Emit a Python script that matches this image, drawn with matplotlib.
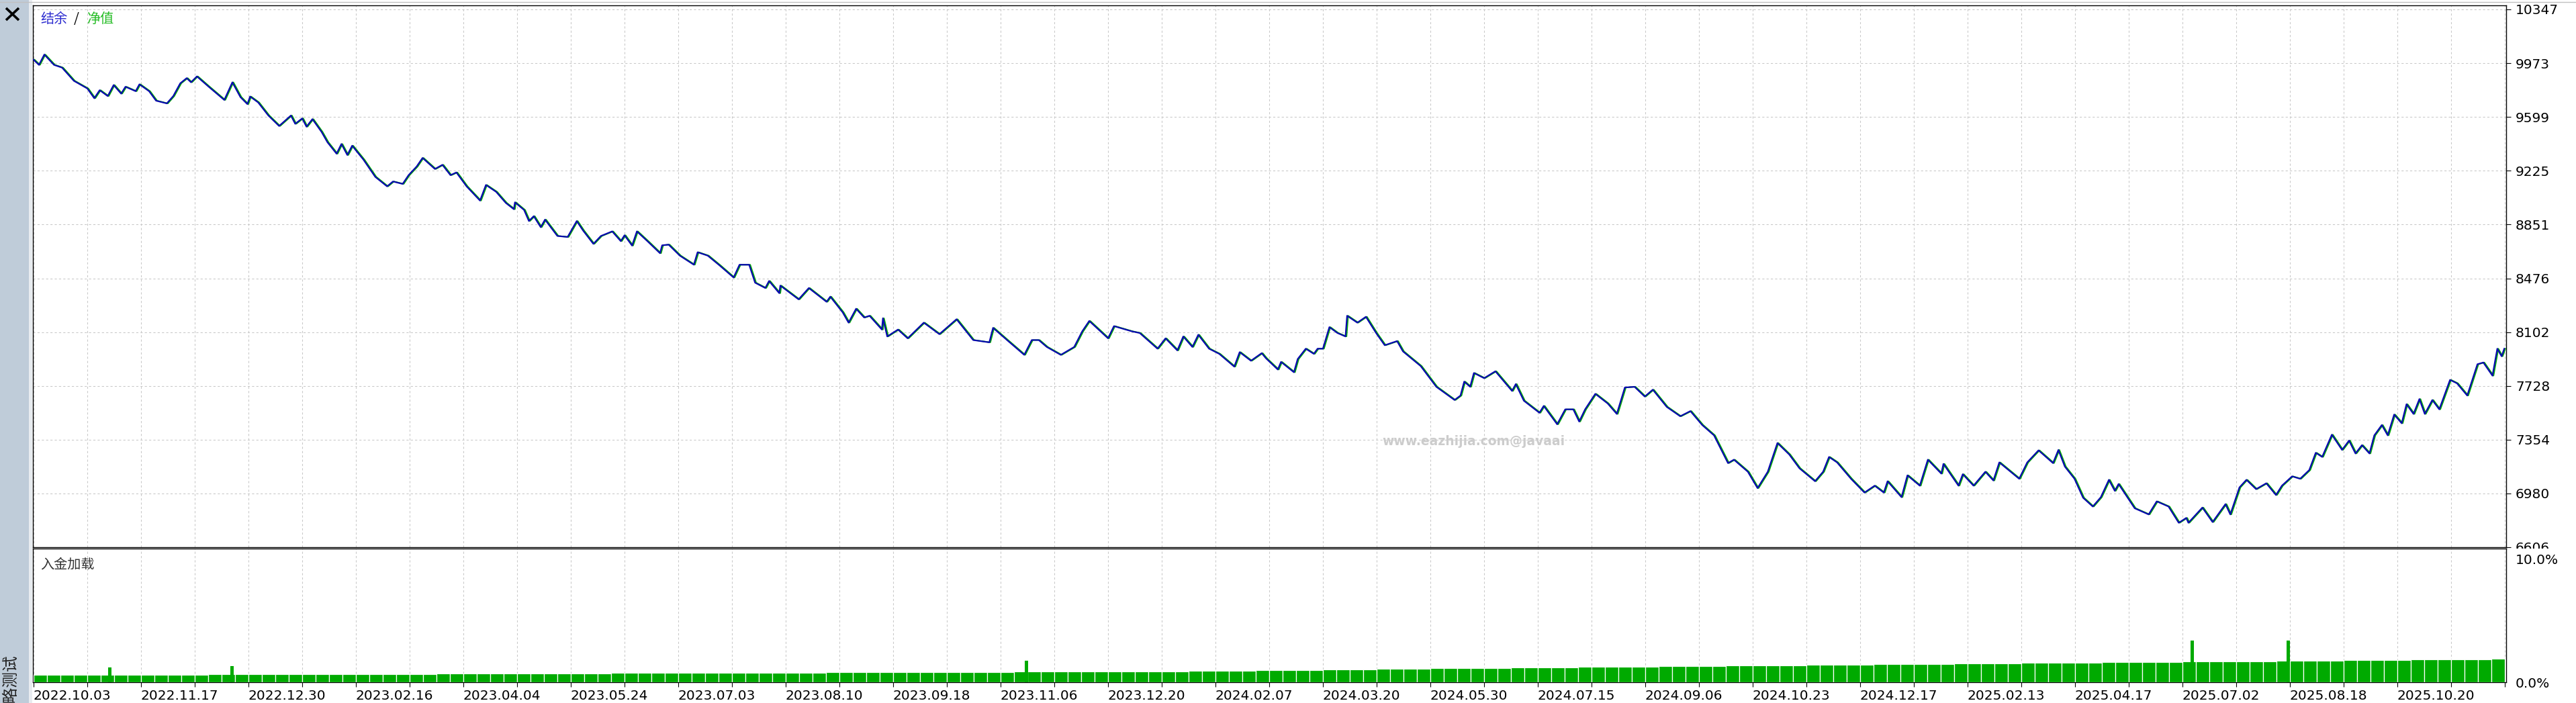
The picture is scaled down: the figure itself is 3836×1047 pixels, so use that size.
import matplotlib
matplotlib.use('Agg')
import matplotlib.pyplot as plt
from matplotlib.patches import Rectangle
from matplotlib.lines import Line2D

plt.rcParams['font.family'] = ['DejaVu Sans']
plt.rcParams['lines.scale_dashes'] = False

W, H, DPI = 3837, 1047, 100

# x axis: one unit per grid column, a date label on every second column
date_labels = ['2022.10.03', '2022.11.17', '2022.12.30', '2023.02.16', '2023.04.04',
               '2023.05.24', '2023.07.03', '2023.08.10', '2023.09.18', '2023.11.06',
               '2023.12.20', '2024.02.07', '2024.03.20', '2024.05.30', '2024.07.15',
               '2024.09.06', '2024.10.23', '2024.12.17', '2025.02.13', '2025.04.17',
               '2025.07.02', '2025.08.18', '2025.10.20']
y_ticks = [6606, 6980, 7354, 7728, 8102, 8476, 8851, 9225, 9599, 9973, 10347]

# balance curve (position in grid columns, value)
bal_x = [0.0, 0.1, 0.2, 0.38, 0.53, 0.75, 1.0, 1.13, 1.23, 1.38, 1.49, 1.63, 1.71, 1.9, 1.97,
         2.15, 2.28, 2.48, 2.6, 2.73, 2.85, 2.93, 3.04, 3.26, 3.55, 3.7, 3.85, 3.98, 4.03, 4.18,
         4.37, 4.57, 4.79, 4.87, 5.0, 5.08, 5.19, 5.36, 5.47, 5.64, 5.73, 5.84, 5.93, 6.14, 6.36,
         6.58, 6.69, 6.87, 6.98, 7.13, 7.24, 7.47, 7.61, 7.76, 7.87, 8.06, 8.31, 8.42, 8.61, 8.79,
         8.94, 8.96, 9.13, 9.22, 9.31, 9.44, 9.52, 9.75, 9.94, 10.11, 10.23, 10.42, 10.56, 10.77,
         10.93, 11.0, 11.14, 11.23,
         11.44, 11.66, 11.7, 11.82, 12.03, 12.29, 12.36, 12.55, 12.77, 13.03, 13.14, 13.32, 13.43,
         13.62, 13.69, 13.88, 13.9, 14.24, 14.43, 14.76, 14.83, 15.06, 15.17, 15.31, 15.46, 15.56,
         15.79, 15.81, 15.89, 16.09, 16.27, 16.57, 16.86, 17.18, 17.49, 17.79, 17.86, 18.12, 18.44,
         18.58, 18.71, 18.86, 19.12, 19.37, 19.52, 19.65, 20.0, 20.11, 20.44, 20.59, 20.92, 21.07,
         21.29, 21.4, 21.57, 21.68, 21.88, 22.07, 22.35, 22.45, 22.66, 22.86,
         22.94, 23.16, 23.22, 23.46, 23.53, 23.68, 23.83, 23.9, 24.0, 24.12, 24.27, 24.42, 24.45,
         24.64, 24.8, 24.99, 25.15, 25.38, 25.49, 25.82, 26.11, 26.45, 26.56, 26.63, 26.74, 26.81,
         27.0, 27.21, 27.52, 27.59, 27.74, 28.03, 28.11, 28.36, 28.51, 28.66, 28.77, 28.88, 29.07,
         29.3, 29.47, 29.62, 29.8, 29.99, 30.14, 30.4, 30.65, 30.84, 31.06, 31.28, 31.54, 31.65,
         31.91, 32.09, 32.28, 32.46, 32.68, 32.87, 33.16, 33.31, 33.42, 33.57, 33.83, 34.08, 34.27,
         34.44, 34.51, 34.77, 34.88, 35.11, 35.26, 35.51, 35.55, 35.83, 35.91, 36.11, 36.33, 36.48,
         36.59, 36.96, 37.11, 37.32, 37.59, 37.69, 37.81, 37.99, 38.15, 38.33, 38.48, 38.63, 38.74,
         38.81, 39.11, 39.37, 39.52, 39.74, 39.93, 40.07, 40.11, 40.37, 40.56, 40.8, 40.89, 41.06,
         41.19, 41.37, 41.56, 41.74, 41.85, 42.04, 42.19, 42.36, 42.48, 42.6, 42.78, 42.97, 43.1,
         43.22, 43.34, 43.48, 43.57, 43.71, 43.82, 43.94, 44.08, 44.17, 44.3, 44.41, 44.51, 44.65,
         44.78, 44.98, 45.11, 45.3, 45.49, 45.6, 45.77, 45.86, 45.94, 45.99]
bal_y = [9997, 9961, 10033, 9961, 9942, 9850, 9797, 9729, 9785, 9744, 9821, 9761, 9809, 9778, 9826,
         9778, 9712, 9693, 9744, 9833, 9869, 9840, 9881, 9809, 9717, 9840, 9737, 9688, 9741, 9700,
         9609, 9536, 9609, 9551, 9589, 9531, 9584, 9495, 9423, 9343, 9411, 9334, 9399, 9302, 9182,
         9116, 9150, 9133, 9194, 9254, 9314, 9237, 9266, 9194, 9213, 9116, 9017, 9126, 9078, 9001,
         8957, 9005, 8952, 8875, 8909, 8832, 8885, 8771, 8764, 8875, 8808, 8716, 8771, 8803,
         8735, 8776, 8704, 8803,
         8730, 8651, 8706, 8711, 8634, 8571, 8658, 8634, 8566, 8482, 8571, 8571, 8446,
         8409, 8458, 8373, 8426, 8330, 8409, 8313, 8349, 8240, 8168, 8265, 8204, 8216,
         8120, 8199, 8072, 8120, 8059, 8168, 8088, 8192, 8047, 8031, 8132, 8047, 7944,
         8047, 8047, 7999, 7944, 7999, 8108, 8180, 8059, 8144, 8108, 8096, 7987, 8059,
         7975, 8072, 7999, 8084, 7987, 7951, 7862, 7963, 7903, 7956,
         7920, 7842, 7895, 7823, 7915, 7987, 7951, 7987, 7987, 8137, 8096, 8072, 8216,
         8168, 8209, 8096, 8011, 8040, 7968, 7866, 7722, 7630, 7661, 7758, 7722, 7818,
         7782, 7830, 7693, 7741, 7625, 7541, 7589, 7461, 7565, 7565, 7480, 7565, 7673,
         7606, 7533, 7717, 7722, 7654, 7702, 7582, 7517, 7553, 7456, 7384, 7191, 7215,
         7131, 7017, 7131, 7331, 7251, 7155, 7065, 7131, 7234, 7196, 7082, 6986, 7034,
         6986, 7065, 6954, 7106, 7034, 7215, 7118, 7186, 7034, 7114, 7034, 7131, 7070,
         7196, 7082, 7196, 7280, 7191, 7283, 7167, 7082, 6950, 6889, 6954, 7075, 6998,
         7046, 6877, 6834, 6925, 6889, 6776, 6810, 6776, 6882, 6781, 6906, 6834, 7022,
         7075, 7010, 7051, 6969, 7034, 7099, 7082, 7143, 7263, 7234, 7389, 7283, 7348,
         7258, 7316, 7258, 7384, 7456, 7384, 7529, 7468, 7601, 7533, 7637, 7533, 7630,
         7565, 7770, 7746, 7661, 7879, 7891, 7799, 7987, 7934, 7987]

# deposit load in percent, four bars per grid column
load = [0.60, 0.60, 0.60, 0.60, 0.60, 0.60, 0.60, 0.61, 0.61, 0.61, 0.62, 0.62,
        0.62, 0.63, 0.63, 0.63, 0.64, 0.64, 0.65, 0.65, 0.65, 0.66, 0.68, 0.66,
        0.66, 0.67, 0.67, 0.68, 0.68, 0.68, 0.69, 0.69, 0.69, 0.70, 0.70, 0.71,
        0.71, 0.71, 0.72, 0.72, 0.72, 0.73, 0.73, 0.74, 0.74, 0.74, 0.75, 0.75,
        0.75, 0.76, 0.76, 0.77, 0.77, 0.77, 0.78, 0.78, 0.78, 0.79, 0.79, 0.80,
        0.80, 0.80, 0.81, 0.81, 0.81, 0.82, 0.82, 0.83, 0.83, 0.83, 0.84, 0.84,
        0.84, 0.85, 0.85, 0.86, 0.86, 0.86, 0.87, 0.87, 0.88, 0.88, 0.89, 0.89,
        0.90, 0.90, 0.91, 0.92, 0.93, 0.94, 0.95, 0.96, 0.97, 0.98, 0.99, 1.00,
        1.02, 1.03, 1.05, 1.06, 1.07, 1.08, 1.10, 1.11, 1.12, 1.13, 1.14, 1.15,
        1.16, 1.17, 1.18, 1.19, 1.20, 1.21, 1.22, 1.23, 1.24, 1.25, 1.26, 1.27,
        1.28, 1.29, 1.30, 1.31, 1.32, 1.33, 1.34, 1.35, 1.36, 1.37, 1.38, 1.39,
        1.40, 1.41, 1.42, 1.43, 1.44, 1.45, 1.46, 1.47, 1.48, 1.49, 1.50, 1.51,
        1.52, 1.53, 1.54, 1.55, 1.56, 1.57, 1.58, 1.59, 1.60, 1.61, 1.62, 1.63,
        1.64, 1.64, 1.65, 1.66, 1.67, 1.68, 1.69, 1.70, 1.70, 1.71, 1.72, 1.73,
        1.74, 1.75, 1.76, 1.77, 1.78, 1.79, 1.80, 1.81, 1.82, 1.83, 1.84, 1.85,
        1.86, 1.87, 1.88, 1.90]
# single tall load bars (position in grid columns, percent)
peak_x = [1.42, 3.69, 18.48, 40.18, 41.97]
peak_h = [1.20, 1.30, 1.75, 3.40, 3.40]

BLUE = '#0808B0'
GREEN = '#00AA00'
GRID = '#C8C8C8'
CJK = ['Noto Sans CJK SC', 'DejaVu Sans']

fig = plt.figure(figsize=(W / DPI, H / DPI), dpi=DPI)

def fx(px):
    return px / W

def fy(py):
    return 1 - py / H

left, right = 49, 3732
ax = fig.add_axes([fx(left), fy(815), fx(right - left), (815 - 8) / H])
ax2 = fig.add_axes([fx(left), fy(1016), fx(right - left), (1016 - 817) / H])

x_lo, x_hi = (left - 50) / 80, (right - 50) / 80
grid_pos = list(range(0, 47))
grid_labels = [date_labels[i // 2] if i % 2 == 0 and i // 2 < len(date_labels) else ''
               for i in grid_pos]

# main panel: equity (green) peeks out from under the balance (blue)
ax.plot([x + 0.02 for x in bal_x], bal_y, color=GREEN, lw=1.4, zorder=3)
ax.plot(bal_x, bal_y, color=BLUE, lw=1.6, zorder=4)
ax.set_xlim(x_lo, x_hi)
ax.set_ylim(6606, 10375)
ax.set_yticks(y_ticks)
ax.set_yticklabels([str(v) for v in y_ticks])
ax.yaxis.tick_right()
ax.tick_params(axis='y', length=5, width=0.8, pad=5, labelsize=14.5, colors='black')
ax.set_xticks(grid_pos)
ax.tick_params(axis='x', length=0, labelbottom=False)
ax.grid(True, color=GRID, lw=0.75, linestyle=(0, (2.3, 2.3)))
for s in ax.spines.values():
    s.set_linewidth(1.0)

ax.text(0.003, 0.988, '结余', transform=ax.transAxes, color='#2E2ED0', fontsize=14.5,
        family=CJK, va='top', ha='left')
ax.text(0.0166, 0.988, '/', transform=ax.transAxes, color='black', fontsize=14.5,
        family=CJK, va='top', ha='left')
ax.text(0.0217, 0.988, '净值', transform=ax.transAxes, color='#22BB22', fontsize=14.5,
        family=CJK, va='top', ha='left')
ax.text(26.8, 7341, 'www.eazhijia.com@javaai', color='#CCCCCC', fontsize=13.5,
        fontweight='bold', ha='center', va='center', zorder=2)

# deposit load panel
bar_x = [0.125 + 0.25 * i for i in range(len(load))]
ax2.bar(bar_x, load, width=0.25, color=GREEN, edgecolor='white', linewidth=0.9, zorder=3)
ax2.bar(peak_x, peak_h, width=0.06, color=GREEN, edgecolor='none', zorder=3)
ax2.set_xlim(x_lo, x_hi)
ax2.set_ylim(0, 10.87)
ax2.set_yticks([0, 10])
ax2.set_yticklabels(['0.0%', '10.0%'])
ax2.yaxis.tick_right()
ax2.tick_params(axis='y', length=0, pad=10, labelsize=14.5)
ax2.set_xticks(grid_pos)
ax2.set_xticklabels(grid_labels, ha='left', fontsize=14.5)
ax2.tick_params(axis='x', length=5, width=0.8, pad=3)
ax2.grid(True, axis='x', color=GRID, lw=0.75, linestyle=(0, (2.3, 2.3)))
for s in ax2.spines.values():
    s.set_linewidth(1.0)
ax2.text(0.003, 0.93, '入金加载', transform=ax2.transAxes, color='#333333', fontsize=14.5,
         family=CJK, va='top', ha='left')

# window chrome: side bar, close cross, caption, top border
fig.add_artist(Rectangle((0, 0), fx(43), 1, transform=fig.transFigure,
                         facecolor='#BFCCD9', edgecolor='none', zorder=-1))
fig.add_artist(Rectangle((fx(43), 0), fx(5), 1, transform=fig.transFigure,
                         facecolor='#E8ECF0', edgecolor='none', zorder=-1))
fig.add_artist(Line2D([0, 1], [fy(3), fy(3)], transform=fig.transFigure, color='#C0C0C0', lw=1))
fig.add_artist(Line2D([fx(9), fx(28)], [fy(12), fy(30)], transform=fig.transFigure,
                      color='black', lw=2.6, solid_capstyle='butt'))
fig.add_artist(Line2D([fx(9), fx(28)], [fy(30), fy(12)], transform=fig.transFigure,
                      color='black', lw=2.6, solid_capstyle='butt'))
fig.text(fx(17), fy(976), '策略测试', rotation=90, ha='center', va='top', fontsize=17,
         color='#222222', family=CJK)
# the lowest price label is cut by the lower panel
fig.add_artist(Rectangle((fx(3736), fy(826)), fx(100), 9 / H, transform=fig.transFigure,
                         facecolor='white', edgecolor='none', zorder=5))

fig.savefig('out.png', dpi=DPI)
